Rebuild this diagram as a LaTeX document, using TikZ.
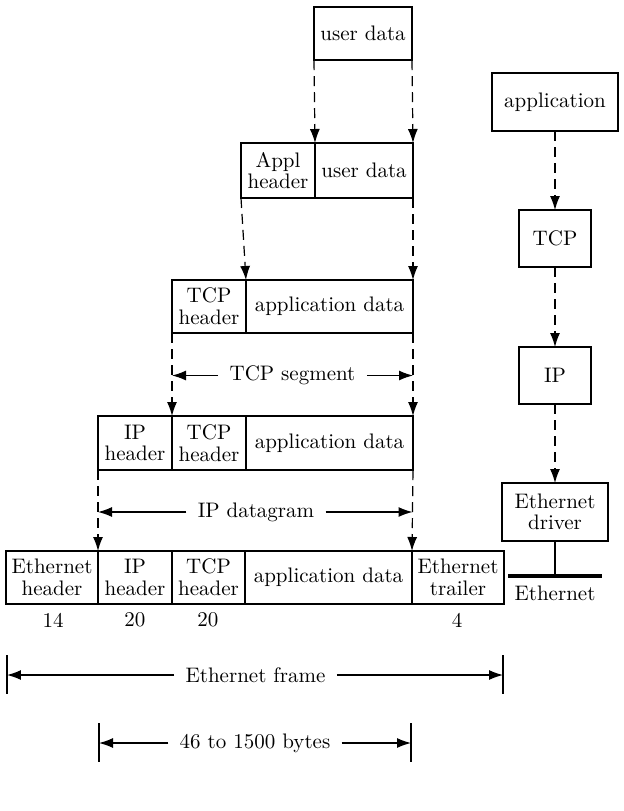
\documentclass[tikz,border=0pt]{standalone}
\usetikzlibrary{arrows.meta}
\begin{document}
\begin{tikzpicture}[x=0.5pt,y=-0.5pt,
  every node/.style={font=\fontsize{10.5}{10.8}\selectfont},
  cell/.style 2 args={draw, line width=0.6pt, inner sep=0pt, outer sep=0pt, align=center,
    anchor=north west, minimum width=#1, minimum height=#2},
  flow/.style={line width=0.6pt, dash pattern=on 5pt off 3pt, -{Latex[length=7pt,width=5pt]}},
  dim/.style={line width=0.6pt, -{Latex[length=7pt,width=5pt]}},
  dimlabel/.style={inner xsep=5.5pt, inner ysep=0pt},
  endbar/.style={line width=1pt},
  num/.style={inner sep=0pt}]
\useasboundingbox (0,0) rectangle (624,811);
\fill[white] (0,0) rectangle (624,811);

% row 0
\node[cell={49pt}{26.5pt}] (ud0) at (314,7) {user data};
% row 1
\node[cell={37pt}{27.5pt}] (appl) at (241,143) {Appl\\header};
\node[cell={49pt}{27.5pt}] (ud1) at (315,143) {user data};
% row 2
\node[cell={37pt}{26.5pt}] (tcph2) at (172,280) {TCP\\header};
\node[cell={83.5pt}{26.5pt}] (ad2) at (246,280) {application data};
% row 3
\node[cell={37pt}{27pt}] (iph3) at (98,416) {IP\\header};
\node[cell={37pt}{27pt}] (tcph3) at (172,416) {TCP\\header};
\node[cell={83.5pt}{27pt}] (ad3) at (246,416) {application data};
% row 4
\node[cell={46pt}{26.5pt}] (eh) at (6,551) {Ethernet\\header};
\node[cell={37pt}{26.5pt}] (iph4) at (98,551) {IP\\header};
\node[cell={36.5pt}{26.5pt}] (tcph4) at (172,551) {TCP\\header};
\node[cell={83.5pt}{26.5pt}] (ad4) at (245,551) {application data};
\node[cell={46pt}{26.5pt}] (et) at (412,551) {Ethernet\\trailer};

% sizes
\node[num] (n14) at (53,620) {14};
\node[num] (n20a) at (135,620) {20};
\node[num] (n20b) at (208,620) {20};
\node[num] (n4) at (457,620) {4};

% encapsulation arrows
\draw[flow] (ud0.south west) -- (ud1.north west);
\draw[flow] (ud0.south east) -- (ud1.north east);
\draw[flow] (appl.south west) -- (ad2.north west);
\draw[flow] (ud1.south east) -- (ad2.north east);
\draw[flow] (tcph2.south west) -- (tcph3.north west);
\draw[flow] (ad2.south east) -- (ad3.north east);
\draw[flow] (iph3.south west) -- (iph4.north west);
\draw[flow] (ad3.south east) -- (ad4.north east);

% TCP segment
\coordinate (segL) at (172,375.5);
\coordinate (segR) at (413,375.5);
\node[dimlabel] (seg) at (292.5,375.5) {TCP segment};
\draw[dim] (seg.west) -- (segL);
\draw[dim] (seg.east) -- (segR);

% IP datagram
\coordinate (dgL) at (98,512);
\coordinate (dgR) at (412.5,512);
\node[dimlabel] (dg) at (256,512) {IP datagram};
\draw[dim] (dg.west) -- (dgL);
\draw[dim] (dg.east) -- (dgR);

% Ethernet frame
\coordinate (frL) at (7,675);
\coordinate (frR) at (503,675);
\coordinate (frLt) at (7,655);
\coordinate (frLb) at (7,694);
\coordinate (frRt) at (503,655);
\coordinate (frRb) at (503,694);
\node[dimlabel] (fr) at (255.5,675) {Ethernet frame};
\draw[dim] (fr.west) -- (frL);
\draw[dim] (fr.east) -- (frR);
\draw[endbar] (frLt) -- (frLb);
\draw[endbar] (frRt) -- (frRb);

% 46 to 1500 bytes
\coordinate (byL) at (99,743);
\coordinate (byR) at (411,743);
\coordinate (byLt) at (99,723);
\coordinate (byLb) at (99,762);
\coordinate (byRt) at (411,723);
\coordinate (byRb) at (411,762);
\node[dimlabel] (by) at (255,743) {46 to 1500 bytes};
\draw[dim] (by.west) -- (byL);
\draw[dim] (by.east) -- (byR);
\draw[endbar] (byLt) -- (byLb);
\draw[endbar] (byRt) -- (byRb);

% protocol stack
\node[cell={63pt}{29pt}] (app) at (492,73) {application};
\node[cell={36pt}{28.5pt}] (tcp) at (519,210) {TCP};
\node[cell={36pt}{28.5pt}] (ip) at (519,347) {IP};
\node[cell={53pt}{29pt}] (drv) at (502,483) {Ethernet\\driver};
\draw[flow] (app.south) -- (tcp.north);
\draw[flow] (tcp.south) -- (ip.north);
\draw[flow] (ip.south) -- (drv.north);
\coordinate (busL) at (508,576);
\coordinate (busR) at (602,576);
\draw[line width=0.6pt] (drv.south) -- (drv.south |- busL);
\draw[line width=2pt] (busL) -- (busR);
\node[num] (eth) at (555,593) {Ethernet};
\end{tikzpicture}
\end{document}
